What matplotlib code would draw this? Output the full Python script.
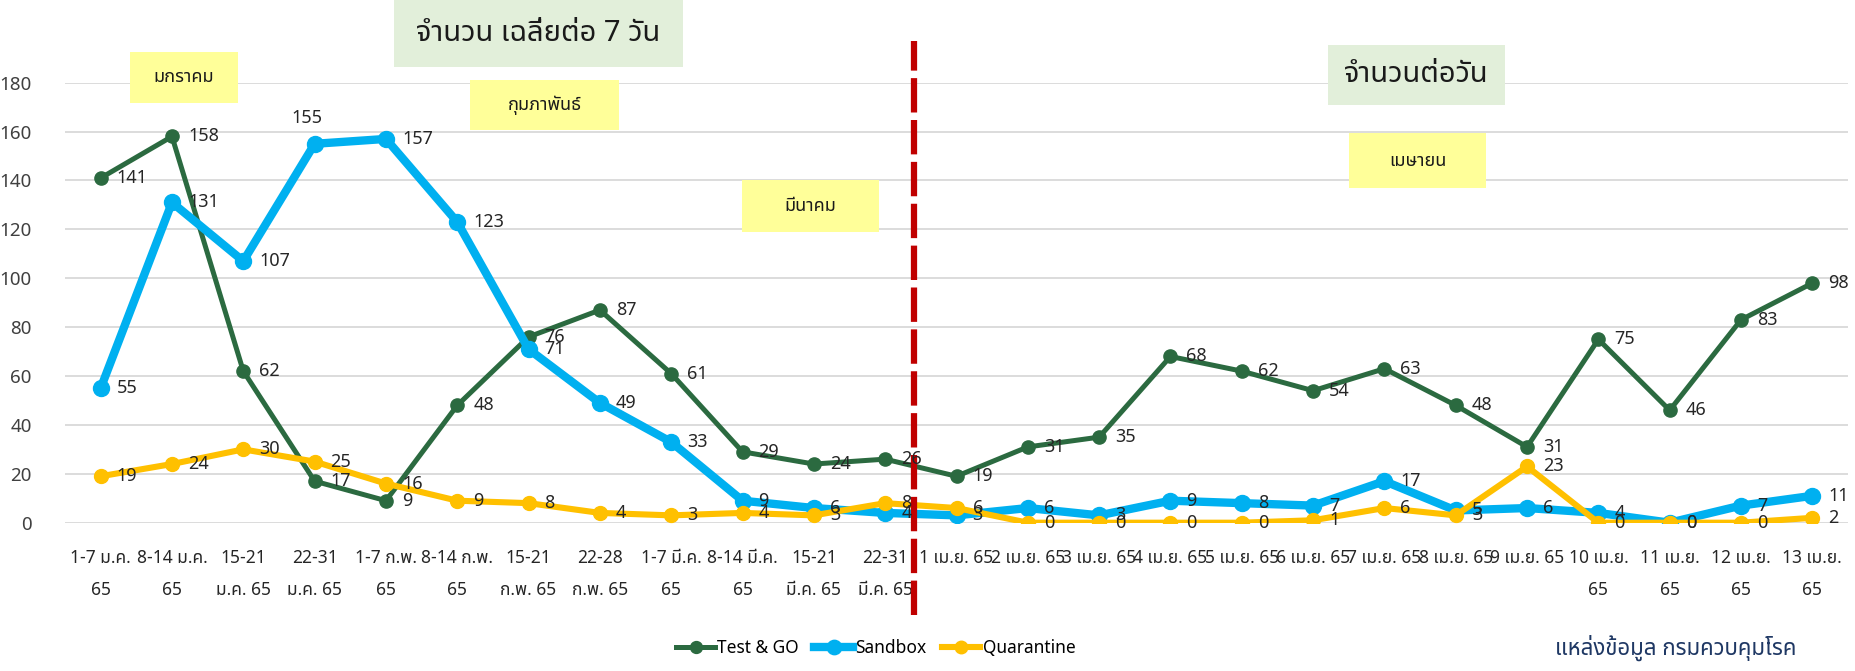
import matplotlib
matplotlib.use("Agg")
import matplotlib.pyplot as plt
import matplotlib.font_manager as fm
from matplotlib import ft2font
from matplotlib.patches import Rectangle

# ---------------- data ----------------
categories = [
    "1-7 ม.ค.\n65", "8-14 ม.ค.\n65", "15-21\nม.ค. 65", "22-31\nม.ค. 65",
    "1-7 ก.พ.\n65", "8-14 ก.พ.\n65", "15-21\nก.พ. 65", "22-28\nก.พ. 65",
    "1-7 มี.ค.\n65", "8-14 มี.ค.\n65", "15-21\nมี.ค. 65", "22-31\nมี.ค. 65",
    "1 เม.ย. 65", "2 เม.ย. 65", "3 เม.ย. 65", "4 เม.ย. 65", "5 เม.ย. 65",
    "6 เม.ย. 65", "7 เม.ย. 65", "8 เม.ย. 65", "9 เม.ย. 65",
    "10 เม.ย.\n65", "11 เม.ย.\n65", "12 เม.ย.\n65", "13 เม.ย.\n65",
]
test_go = [141, 158, 62, 17, 9, 48, 76, 87, 61, 29, 24, 26,
           19, 31, 35, 68, 62, 54, 63, 48, 31, 75, 46, 83, 98]
sandbox = [55, 131, 107, 155, 157, 123, 71, 49, 33, 9, 6, 4,
           3, 6, 3, 9, 8, 7, 17, 5, 6, 4, 0, 7, 11]
quarantine = [19, 24, 30, 25, 16, 9, 8, 4, 3, 4, 3, 8,
              6, 0, 0, 0, 0, 1, 6, 3, 23, 0, 0, 0, 2]
series_names = ["Test & GO", "Sandbox", "Quarantine"]
y_ticks = [0, 20, 40, 60, 80, 100, 120, 140, 160, 180]

title_text = "จำนวน เฉลี่ยต่อ 7 วัน"
daily_text = "จำนวนต่อวัน"
month_texts = ["มกราคม", "กุมภาพันธ์", "มีนาคม", "เมษายน"]
source_text = "แหล่งข้อมูล กรมควบคุมโรค"

# ---------------- fonts ----------------
thai_font = None
preferred = []
for f in fm.fontManager.ttflist:
    try:
        cmap = ft2font.FT2Font(f.fname).get_charmap()
    except Exception:
        continue
    if 0x0E01 in cmap and 0x0E33 in cmap and 0x0E49 in cmap:
        preferred.append(f.name)
for cand in ["Tahoma", "Noto Sans Thai", "Noto Sans Thai UI", "Loma", "Garuda",
             "Sarabun", "Kinnari"]:
    if cand in preferred:
        thai_font = cand
        break
if thai_font is None and preferred:
    thai_font = preferred[0]
families = ([thai_font] if thai_font else []) + ["DejaVu Sans"]
plt.rcParams["font.family"] = families

W, H = 1855, 671
fig = plt.figure(figsize=(W / 100, H / 100), dpi=100)
fig.patch.set_facecolor("white")

ax_left, ax_right = 65, 1848
ax_bottom_px, ax_top_px = 522.7, 82.7
ax = fig.add_axes([ax_left / W, 1 - ax_bottom_px / H,
                   (ax_right - ax_left) / W, (ax_bottom_px - ax_top_px) / H])

x = list(range(len(categories)))
colors = ["#2B6A40", "#00B0F0", "#FFC000"]
lws = [3.6, 6.0, 4.4]
mss = [9.5, 11.5, 10.0]
all_series = [test_go, sandbox, quarantine]

lines = []
for i, (vals, c, lw, ms, name) in enumerate(zip(all_series, colors, lws, mss, series_names)):
    ln, = ax.plot(x, vals, color=c, lw=lw, marker="o", ms=ms, mec=c, mfc=c,
                  label=name, zorder=3 + i, solid_joinstyle="round")
    lines.append(ln)

# data labels
special = {(1, 3): (-8, 26)}  # Sandbox 155 placed above
for si, vals in enumerate(all_series):
    for xi, v in enumerate(vals):
        off = special.get((si, xi), (16, 0))
        ha = "center" if (si, xi) in special else "left"
        ax.annotate(str(v), (xi, v), xytext=off, textcoords="offset pixels",
                    ha=ha, va="center", fontsize=13, color="#262626",
                    zorder=10, annotation_clip=False)

ax.set_xlim(-0.5, len(categories) - 0.5)
ax.set_ylim(0, 180)
ax.set_yticks(y_ticks)
ax.set_yticklabels([str(t) for t in y_ticks], fontsize=13.5, color="#404040")
ax.set_xticks(x)
ax.set_xticklabels(categories, fontsize=12.5, color="#262626")
for lab in ax.get_xticklabels():
    lab.set_linespacing(2.0)
ax.tick_params(axis="both", length=0)
ax.tick_params(axis="y", pad=24)
ax.tick_params(axis="x", pad=19)
ax.grid(axis="y", color="#D9D9D9", lw=1.3)
ax.set_axisbelow(True)
for s in ax.spines.values():
    s.set_visible(False)

# dashed red divider
ax.axvline(11.4, ymin=-0.21, ymax=1.095, color="#C00000", lw=4.5,
           ls=(0, (5.5, 1.2)), clip_on=False, zorder=8)


def fig_box(x0, y0, x1, y1, fc, text, fs, weight="normal", color="#1A1A1A"):
    fig.add_artist(Rectangle((x0 / W, 1 - y1 / H), (x1 - x0) / W, (y1 - y0) / H,
                             transform=fig.transFigure, fc=fc, ec="none", zorder=1))
    fig.text((x0 + x1) / 2 / W, 1 - (y0 + y1) / 2 / H, text, ha="center",
             va="center", fontsize=fs, fontweight=weight, color=color, zorder=2)


fig_box(394, 0, 683, 67, "#E2EFDA", title_text, 21, "bold")
fig_box(1328, 45, 1505, 105, "#E2EFDA", daily_text, 21, "bold")
yellow = "#FFFF99"
fig_box(130, 52, 238, 103, yellow, month_texts[0], 13, "bold")
fig_box(470, 80, 619, 130, yellow, month_texts[1], 13, "bold")
fig_box(742, 180, 879, 232, yellow, month_texts[2], 13, "bold")
fig_box(1349, 133, 1486, 188, yellow, month_texts[3], 13, "bold")

# legend
fig.legend(handles=lines, labels=series_names, loc="center",
           bbox_to_anchor=(876 / W, 1 - 648 / H), ncol=3, frameon=False,
           fontsize=12.5, handlelength=2.2, handletextpad=0.15,
           columnspacing=0.9, markerscale=0.9)

fig.text(1676 / W, 1 - 648 / H, source_text, ha="center", va="center",
         fontsize=16, fontweight="bold", color="#1F3864")

fig.savefig("out.png", dpi=100)
